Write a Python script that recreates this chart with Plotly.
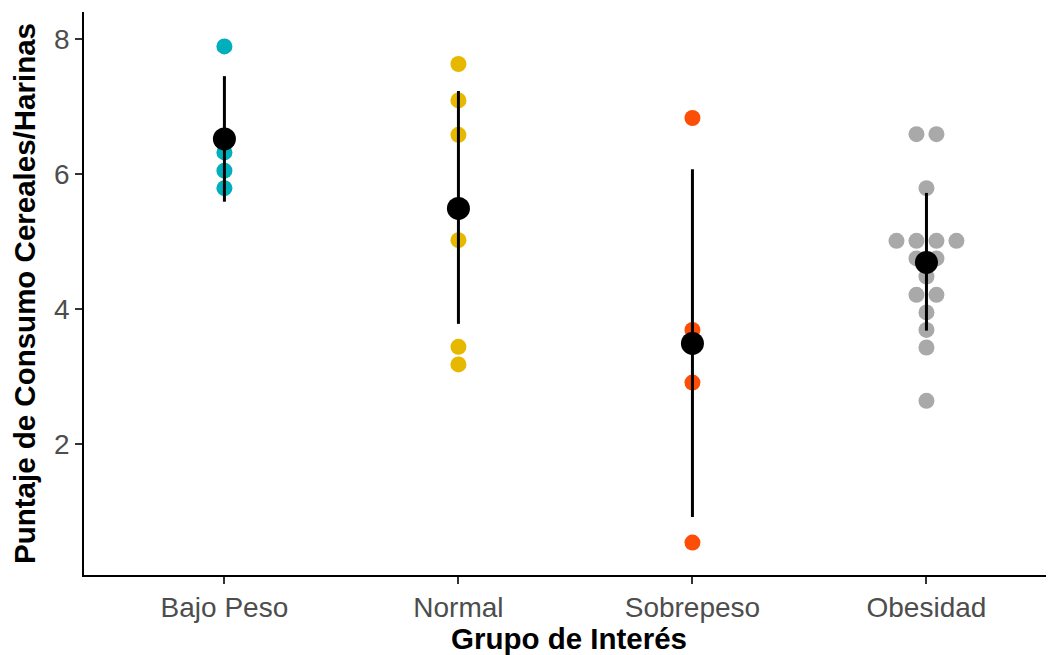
import plotly.graph_objects as go
from collections import Counter

categories = ["Bajo Peso", "Normal", "Sobrepeso", "Obesidad"]
bajo_peso = [7.89, 6.32, 6.05, 5.79]
normal = [7.63, 7.09, 6.58, 5.02, 3.44, 3.18]
sobrepeso = [6.83, 3.69, 2.91, 0.54]
obesidad = [6.59, 6.59, 5.79, 5.01, 5.01, 5.01, 5.01, 4.75, 4.75,
            4.48, 4.21, 4.21, 3.95, 3.69, 3.43, 2.64]
means = [6.52, 5.49, 3.49, 4.69]
upper = [7.45, 7.23, 6.07, 5.72]
lower = [5.59, 3.78, 0.92, 3.68]
y_ticks = [2, 4, 6, 8]
colors = ["#00AFBB", "#E7B800", "#FC4E07", "#A9A9A9"]

groups = [bajo_peso, normal, sobrepeso, obesidad]
dot_step = 0.0854  # horizontal stacking step (category units)

fig = go.Figure()
for i, (vals, col) in enumerate(zip(groups, colors)):
    counts = Counter(vals)
    seen = Counter()
    xs, ys = [], []
    for v in vals:
        n = counts[v]
        k = seen[v]
        seen[v] += 1
        xs.append(i + 1 + (k - (n - 1) / 2) * dot_step)
        ys.append(v)
    fig.add_trace(go.Scatter(x=xs, y=ys, mode="markers",
                             marker=dict(size=16, color=col, line=dict(width=0)),
                             showlegend=False, hoverinfo="y"))

xpos = [i + 1 for i in range(len(categories))]
fig.add_trace(go.Scatter(
    x=xpos, y=means, mode="markers",
    marker=dict(size=23, color="black", line=dict(width=0)),
    error_y=dict(type="data", symmetric=False,
                 array=[u - m for u, m in zip(upper, means)],
                 arrayminus=[m - l for m, l in zip(means, lower)],
                 thickness=3, width=0, color="black"),
    showlegend=False))

tick_font = dict(family="Liberation Sans, Arial, sans-serif", size=28, color="#4D4D4D")
title_font = dict(family="Liberation Sans, Arial, sans-serif", size=29.5, color="black")

# the page body adds an 8 px offset, so the figure is 8 px smaller than the window
fig.update_layout(
    width=1046, height=647,
    margin=dict(l=76, r=0, t=4, b=80),
    paper_bgcolor="white", plot_bgcolor="white",
    font=dict(family="Liberation Sans, Arial, sans-serif", color="#4D4D4D"),
    xaxis=dict(range=[0.4, 4.545], tickvals=xpos, ticktext=categories,
               automargin=False,
               showgrid=False, zeroline=False, showline=True, linecolor="black",
               linewidth=1.5, ticks="outside", ticklen=7, tickcolor="#333333",
               tickwidth=1.5, tickfont=tick_font,
               title=dict(text="<b>Grupo de Interés</b>", standoff=2,
                          font=title_font)),
    yaxis=dict(range=[0.06, 8.4], tickvals=y_ticks,
               automargin=False,
               showgrid=False, zeroline=False, showline=True, linecolor="black",
               linewidth=1.5, ticks="outside", ticklen=7, tickcolor="#333333",
               tickwidth=1.5, tickfont=tick_font,
               title=dict(text="<b>Puntaje de Consumo Cereales/Harinas</b>", standoff=12,
                          font=title_font)),
)

fig.write_html("out.html")
